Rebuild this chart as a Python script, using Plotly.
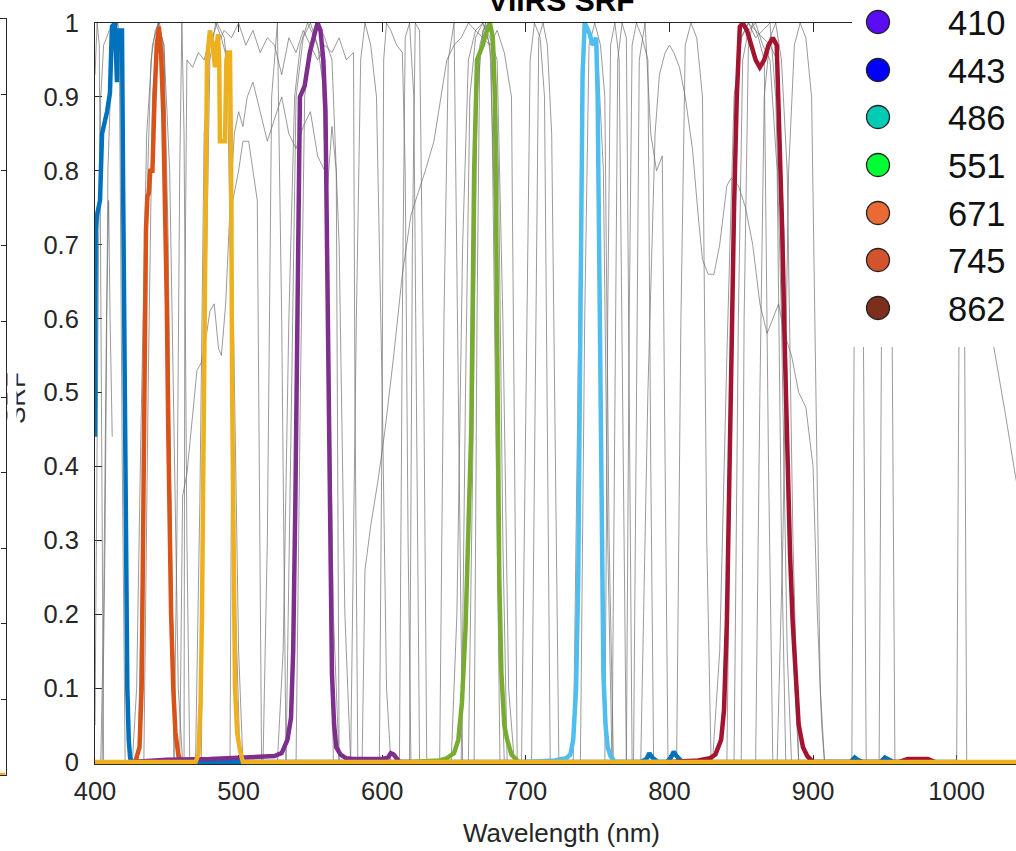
import plotly.graph_objects as go

W, H = 1016, 851

# ---------------- legend (band centres) ----------------
band_labels = ["410", "443", "486", "551", "671", "745", "862"]
band_colors = ["#5a0cf5", "#0000ff", "#00ccb4", "#00ff33", "#ea6a35", "#d4532f", "#7b2f1c"]

# ---------------- VIIRS SRF (coloured, thick) ----------------
m1_wl = [400, 400.5, 401.4, 403.5, 404.9, 408.4, 410.4, 411.8, 413.9, 415.3, 416, 418.8, 419.5, 420.5,
         421.5, 422.5, 423.5, 424.5, 426, 430, 780, 784, 786, 788, 792, 798, 801, 803, 805, 809, 900,
         926, 929, 931, 935, 947, 950, 952, 956, 1000]
m1_srf = [0.44, 0.72, 0.74, 0.76, 0.85, 0.88, 0.905, 0.995, 1.0, 0.92, 0.99, 0.99, 0.8, 0.5,
          0.25, 0.1, 0.03, 0.005, 0.0, 0.0, 0.0, 0.004, 0.012, 0.006, 0.0, 0.0, 0.006, 0.014, 0.008, 0.0, 0.0,
          0.0, 0.006, 0.003, 0.0, 0.0, 0.006, 0.004, 0.0, 0.0]
m2_wl = [428, 431, 432.5, 433.5, 434.5, 435.5, 436.5, 437.5, 438.5, 440, 441.5, 443, 444.5, 446, 447.5,
         449, 450, 451, 452, 453, 454.5, 456, 458, 460]
m2_srf = [0, 0.02, 0.1, 0.3, 0.55, 0.72, 0.765, 0.77, 0.8, 0.8, 0.9, 0.97, 0.995, 0.96, 0.88,
          0.76, 0.62, 0.45, 0.3, 0.2, 0.1, 0.04, 0.01, 0]
m3_wl = [400, 470, 472, 473.5, 474.5, 475.5, 476.5, 478, 480, 482, 483.5, 484.5, 485.6, 486.5, 487, 489,
         490.5, 491.5, 492.5, 494, 494.8, 495.5, 496.5, 497.5, 499, 501, 503, 1050]
m3_srf = [0, 0, 0.01, 0.08, 0.2, 0.45, 0.75, 0.95, 0.99, 0.97, 0.94, 0.96, 0.985, 0.95, 0.84, 0.84,
          0.84, 0.95, 0.96, 0.96, 0.8, 0.5, 0.25, 0.1, 0.04, 0.015, 0.0, 0.0]
m4_wl = [425, 450, 480, 510, 525, 530, 534, 536.5, 538, 539.5, 541, 542.7, 546, 549.6, 553, 555, 557, 559,
         560.5, 562, 563.5, 565, 566.5, 568, 571, 575, 580, 590, 600, 604, 606, 608, 610, 612, 620]
m4_srf = [0.0, 0.003, 0.004, 0.006, 0.008, 0.012, 0.03, 0.06, 0.15, 0.35, 0.65, 0.9, 0.915, 0.96, 0.986,
          1.0, 0.99, 0.95, 0.88, 0.6, 0.3, 0.12, 0.05, 0.02, 0.01, 0.005, 0.004, 0.004, 0.004, 0.006, 0.012,
          0.01, 0.006, 0.0, 0.0]
m5_wl = [620, 640, 645, 650, 653, 655.5, 658, 660, 662, 663, 664, 666, 668, 670, 672, 675, 677, 678.5,
         679.5, 680.5, 681.5, 683, 685, 687, 690, 695]
m5_srf = [0, 0.002, 0.005, 0.012, 0.03, 0.08, 0.18, 0.3, 0.45, 0.62, 0.8, 0.95, 0.96, 0.97, 0.985, 1.0,
          0.98, 0.9, 0.7, 0.45, 0.25, 0.12, 0.05, 0.03, 0.01, 0.0]
m6_wl = [700, 720, 728, 731, 733, 735, 736.5, 737.5, 738.5, 739.5, 741, 744.5, 746.6, 749, 750, 751, 752,
         753, 754, 755.5, 757, 759, 762, 800]
m6_srf = [0, 0.002, 0.005, 0.01, 0.03, 0.1, 0.25, 0.5, 0.75, 0.93, 1.0, 0.985, 0.97, 0.98, 0.9, 0.7, 0.45,
          0.25, 0.12, 0.05, 0.02, 0.008, 0.0, 0.0]
m7_wl = [800, 820, 828, 832, 836, 838, 840, 841.5, 843.4, 845, 846.9, 849, 851, 854, 857, 860, 862.9, 866,
         869, 872, 874.7, 875.5, 877, 878.5, 880, 882, 884, 885.8, 888, 890, 893, 896, 900, 910, 960, 966,
         980, 985]
m7_srf = [0, 0.002, 0.005, 0.01, 0.03, 0.07, 0.19, 0.38, 0.585, 0.75, 0.9, 0.995, 1.0, 0.99, 0.97, 0.95,
          0.94, 0.95, 0.97, 0.98, 0.97, 0.92, 0.85, 0.72, 0.585, 0.42, 0.28, 0.19, 0.1, 0.05, 0.02, 0.008,
          0.0, 0.0, 0.0, 0.004, 0.004, 0.0]
viirs_colors = ["#0072bd", "#d95319", "#edb120", "#7e2f8e", "#77ac30", "#4dbeee", "#a2142f"]

# ---------------- other sensors (thin grey) ----------------
g01_wl = [400, 401.5, 403, 404.5, 406]
g01_srf = [0.93, 1.0, 0.97, 0.4, 0.0]
g02_wl = [400, 401, 402.5, 404, 406, 410, 414, 417, 419, 421]
g02_srf = [0.05, 0.3, 0.7, 0.9, 0.97, 0.99, 1.0, 0.95, 0.4, 0.0]
g03_wl = [404, 406, 408, 409.5, 410.5, 411.5, 412]
g03_srf = [0.0, 0.2, 0.6, 0.76, 0.6, 0.44, 0.44]
g04_wl = [405, 407, 409, 412, 416, 419, 421, 423, 425]
g04_srf = [0, 0.3, 0.8, 0.98, 1.0, 0.9, 0.5, 0.1, 0]
g05_wl = [426, 429, 432, 436, 440, 444, 448, 452, 455, 458, 461]
g05_srf = [0, 0.1, 0.45, 0.85, 0.97, 1.0, 0.97, 0.8, 0.45, 0.1, 0]
g06_wl = [430, 433, 436, 439, 442, 445, 448, 451, 454, 457]
g06_srf = [0, 0.3, 0.75, 0.95, 0.99, 1.0, 0.95, 0.6, 0.2, 0]
g07_wl = [434, 437, 440, 444, 448, 451, 453, 455]
g07_srf = [0, 0.5, 0.9, 1.0, 0.97, 0.7, 0.3, 0]
g08_wl = [455, 457, 459, 460.5, 462, 464, 466]
g08_srf = [0, 0.3, 0.8, 1.0, 0.85, 0.3, 0]
g09_wl = [470, 473, 476, 480, 485, 490, 494, 497, 500, 503]
g09_srf = [0, 0.35, 0.85, 0.97, 1.0, 0.98, 0.9, 0.5, 0.15, 0]
g10_wl = [474, 477, 480, 484, 488, 492, 495, 498, 501]
g10_srf = [0, 0.6, 0.95, 1.0, 0.98, 0.95, 0.6, 0.2, 0]
g11_wl = [462, 462.5, 464, 468, 472, 476, 480, 485, 490, 495, 500, 505, 510, 515, 520, 525, 530, 535, 540,
          545, 550, 555, 560, 565, 570, 575, 580, 581, 583]
g11_srf = [0, 0.6, 0.95, 0.94, 0.96, 0.95, 0.98, 0.97, 0.99, 0.98, 1.0, 0.97, 0.99, 0.96, 0.98, 0.97, 0.93,
           0.98, 0.96, 0.99, 0.97, 0.95, 0.97, 0.96, 0.98, 0.95, 0.96, 0.5, 0]
g12_wl = [459, 460, 461, 464, 467, 471, 474, 477, 480, 483, 486, 488, 491, 494, 497, 500, 503, 506, 510,
          515, 520, 525, 530, 535, 540, 545, 550, 555, 560, 562, 565, 568, 570]
g12_srf = [0, 0.2, 0.36, 0.39, 0.45, 0.53, 0.54, 0.57, 0.61, 0.62, 0.56, 0.55, 0.62, 0.75, 0.85, 0.88,
           0.86, 0.9, 0.92, 0.88, 0.84, 0.87, 0.9, 0.85, 0.83, 0.86, 0.88, 0.82, 0.8, 0.78, 0.86, 0.8, 0]
g13_wl = [494, 495, 496, 500, 503, 507, 510, 513, 514, 516]
g13_srf = [0, 0.5, 0.76, 0.8, 0.84, 0.84, 0.8, 0.76, 0.5, 0]
g14_wl = [527, 531, 535, 539, 543, 548, 553, 558, 562, 566, 570]
g14_srf = [0, 0.15, 0.6, 0.9, 0.97, 1.0, 0.98, 0.95, 0.7, 0.2, 0]
g15_wl = [533, 536, 540, 545, 550, 555, 560, 563, 566]
g15_srf = [0, 0.4, 0.9, 0.98, 1.0, 0.97, 0.9, 0.4, 0]
g16_wl = [540, 543, 546, 550, 555, 560, 565, 570, 574, 578]
g16_srf = [0, 0.5, 0.9, 0.97, 1.0, 0.98, 0.95, 0.7, 0.2, 0]
g17_wl = [517, 520, 523, 527, 530, 533]
g17_srf = [0, 0.3, 0.9, 1.0, 0.6, 0]
g18_wl = [578, 582, 585, 588, 592, 596, 600, 603, 606]
g18_srf = [0, 0.6, 0.95, 1.0, 0.97, 0.9, 0.5, 0.1, 0]
g19_wl = [598, 600, 601, 603, 606, 610, 614, 616, 618, 620]
g19_srf = [0, 0.5, 0.95, 1.0, 0.99, 0.97, 0.96, 0.8, 0.3, 0]
g20_wl = [586, 588, 592, 597, 602, 608, 614, 620, 625, 630, 636, 641, 645, 650, 655, 660, 665, 670, 675,
          680, 685, 690, 692, 694]
g20_srf = [0, 0.26, 0.32, 0.38, 0.45, 0.55, 0.66, 0.74, 0.77, 0.8, 0.84, 0.9, 0.95, 0.97, 0.98, 1.0, 0.99,
           0.98, 0.97, 0.99, 0.96, 0.9, 0.4, 0]
g21_wl = [612, 614, 616, 619, 622, 624, 626]
g21_srf = [0, 0.6, 0.98, 1.0, 0.9, 0.4, 0]
g22_wl = [619, 621, 623, 626, 629, 631]
g22_srf = [0, 0.7, 1.0, 0.99, 0.5, 0]
g23_wl = [648, 652, 656, 660, 665, 670, 675, 680, 684, 688, 692]
g23_srf = [0, 0.2, 0.7, 0.95, 0.99, 1.0, 0.98, 0.95, 0.6, 0.1, 0]
g24_wl = [655, 658, 661, 665, 670, 675, 679, 682, 685]
g24_srf = [0, 0.5, 0.9, 0.98, 1.0, 0.97, 0.7, 0.2, 0]
g25_wl = [660, 663, 666, 670, 674, 678, 681, 684, 687]
g25_srf = [0, 0.4, 0.9, 0.99, 1.0, 0.98, 0.8, 0.3, 0]
g26_wl = [640, 643, 646, 650, 653, 656]
g26_srf = [0, 0.6, 0.95, 1.0, 0.5, 0]
g27_wl = [664, 666, 668, 672, 676, 679, 682]
g27_srf = [0, 0.6, 0.97, 1.0, 0.95, 0.5, 0]
g28_wl = [697, 700, 703, 706, 710, 713, 715, 717]
g28_srf = [0, 0.5, 0.95, 1.0, 0.98, 0.9, 0.4, 0]
g29_wl = [704, 707, 709, 712, 715, 718, 721, 723]
g29_srf = [0, 0.6, 0.98, 1.0, 0.97, 0.85, 0.3, 0]
g30_wl = [733, 736, 739, 742, 746, 750, 754, 757, 760]
g30_srf = [0, 0.5, 0.92, 1.0, 0.98, 0.96, 0.8, 0.3, 0]
g31_wl = [738, 741, 744, 748, 752, 755, 758, 761]
g31_srf = [0, 0.6, 0.97, 1.0, 0.97, 0.9, 0.3, 0]
g32_wl = [755, 757, 759, 762, 765, 768, 770]
g32_srf = [0, 0.6, 0.97, 1.0, 0.95, 0.4, 0]
g33_wl = [760, 762, 764, 767, 770, 772, 774]
g33_srf = [0, 0.5, 0.95, 1.0, 0.98, 0.5, 0]
g34_wl = [770, 772, 774, 777, 781, 785, 787, 789]
g34_srf = [0, 0.6, 0.97, 1.0, 0.98, 0.95, 0.4, 0]
g35_wl = [775, 777, 779, 783, 787, 791, 795, 797, 799]
g35_srf = [0, 0.5, 0.95, 1.0, 0.85, 0.8, 0.82, 0.4, 0]
g36_wl = [780, 785, 790, 793, 797, 800, 803, 807, 811, 816, 820, 823, 827, 831, 835, 840, 843, 848, 853,
          858, 863, 868, 872, 876, 880, 885, 890, 895, 900, 903, 906, 908]
g36_srf = [0.0, 0.5, 0.85, 0.93, 0.96, 0.97, 0.96, 0.94, 0.9, 0.83, 0.74, 0.68, 0.66, 0.66, 0.7, 0.78, 0.79,
           0.78, 0.75, 0.7, 0.62, 0.58, 0.6, 0.62, 0.58, 0.55, 0.5, 0.48, 0.4, 0.2, 0.05, 0]
g37_wl = [805, 808, 811, 815, 819, 823, 826, 829]
g37_srf = [0, 0.6, 0.97, 1.0, 0.98, 0.9, 0.3, 0]
g38_wl = [830, 835, 840, 845, 850, 855, 860, 865, 870, 875, 880, 885, 890]
g38_srf = [0, 0.15, 0.55, 0.9, 0.98, 1.0, 0.99, 0.98, 0.97, 0.95, 0.7, 0.2, 0]
g39_wl = [840, 843, 846, 850, 855, 860, 865, 870, 874, 878, 882, 885]
g39_srf = [0, 0.5, 0.9, 0.98, 1.0, 0.98, 0.99, 1.0, 0.9, 0.6, 0.15, 0]
g40_wl = [845, 848, 851, 855, 860, 865, 870, 875, 878, 881]
g40_srf = [0, 0.6, 0.95, 0.99, 1.0, 0.97, 0.95, 0.8, 0.3, 0]
g41_wl = [850, 852, 855, 858, 862, 866, 869, 872]
g41_srf = [0, 0.6, 0.97, 1.0, 0.98, 0.95, 0.4, 0]
g42_wl = [860, 863, 866, 870, 874, 878, 882, 886, 890]
g42_srf = [0, 0.5, 0.9, 0.98, 1.0, 0.95, 0.8, 0.3, 0]
g43_wl = [875, 879, 883, 887, 891, 895, 899, 902, 905, 908]
g43_srf = [0, 0.3, 0.8, 0.97, 1.0, 0.98, 0.9, 0.5, 0.1, 0]
g44_wl = [927, 929, 931, 933, 935, 937]
g44_srf = [0, 0.7, 1.0, 0.99, 0.6, 0]
g45_wl = [946, 948, 950, 953, 955, 957]
g45_srf = [0, 0.7, 1.0, 0.98, 0.6, 0]
g46_wl = [1000, 1002, 1003.5, 1005, 1007]
g46_srf = [0, 0.7, 1.0, 0.8, 0]
g47_wl = [1000, 1010, 1020, 1026, 1034, 1041, 1050]
g47_srf = [0.9, 0.8, 0.68, 0.56, 0.47, 0.386, 0.3]

grey_curves = [
    (g01_wl, g01_srf), (g02_wl, g02_srf), (g03_wl, g03_srf), (g04_wl, g04_srf), (g05_wl, g05_srf),
    (g06_wl, g06_srf), (g07_wl, g07_srf), (g08_wl, g08_srf), (g09_wl, g09_srf), (g10_wl, g10_srf),
    (g11_wl, g11_srf), (g12_wl, g12_srf), (g13_wl, g13_srf), (g14_wl, g14_srf), (g15_wl, g15_srf),
    (g16_wl, g16_srf), (g17_wl, g17_srf), (g18_wl, g18_srf), (g19_wl, g19_srf), (g20_wl, g20_srf),
    (g21_wl, g21_srf), (g22_wl, g22_srf), (g23_wl, g23_srf), (g24_wl, g24_srf), (g25_wl, g25_srf),
    (g26_wl, g26_srf), (g27_wl, g27_srf), (g28_wl, g28_srf), (g29_wl, g29_srf), (g30_wl, g30_srf),
    (g31_wl, g31_srf), (g32_wl, g32_srf), (g33_wl, g33_srf), (g34_wl, g34_srf), (g35_wl, g35_srf),
    (g36_wl, g36_srf), (g37_wl, g37_srf), (g38_wl, g38_srf), (g39_wl, g39_srf), (g40_wl, g40_srf),
    (g41_wl, g41_srf), (g42_wl, g42_srf), (g43_wl, g43_srf), (g44_wl, g44_srf), (g45_wl, g45_srf),
    (g46_wl, g46_srf), (g47_wl, g47_srf),
]
viirs_curves = [(m1_wl, m1_srf), (m2_wl, m2_srf), (m4_wl, m4_srf), (m5_wl, m5_srf),
                (m6_wl, m6_srf), (m7_wl, m7_srf), (m3_wl, m3_srf)]
viirs_order_colors = [viirs_colors[0], viirs_colors[1], viirs_colors[3], viirs_colors[4],
                      viirs_colors[5], viirs_colors[6], viirs_colors[2]]

x_ticks = [400, 500, 600, 700, 800, 900, 1000]
y_ticks = [0, 0.1, 0.2, 0.3, 0.4, 0.5, 0.6, 0.7, 0.8, 0.9, 1]

# ---------------- geometry (pixels) ----------------
AX_L, AX_R, AX_T, AX_B = 95, 1016, 23, 762
EXT_B = 2.3                       # plot area extends a little below y=0 so the thick baseline is not clipped
PX_PER_NM = 1.4361
X_MAX = 400 + (AX_R - AX_L) / PX_PER_NM
Y_MIN = -EXT_B / (AX_B - AX_T)
AXC = "#262626"
FONT = "Liberation Sans, Arial, Helvetica, sans-serif"


def px(xp):
    return xp / W


def py(yp):
    return 1 - yp / H


fig = go.Figure()
for wl, s in grey_curves:
    fig.add_trace(go.Scatter(x=wl, y=s, mode="lines", cliponaxis=False, hoverinfo="skip",
                             showlegend=False, line=dict(color="rgba(110,110,110,0.78)", width=0.9)))
for (wl, s), c in zip(viirs_curves, viirs_order_colors):
    fig.add_trace(go.Scatter(x=wl, y=s, mode="lines", cliponaxis=False, hoverinfo="skip",
                             showlegend=False, line=dict(color=c, width=4.5)))

# partial neighbouring axes at the far left
fig.add_trace(go.Scatter(x=[0, 1], y=[0, 0], mode="lines", xaxis="x2", yaxis="y2", cliponaxis=False,
                         showlegend=False, hoverinfo="skip", line=dict(color=viirs_colors[2], width=4.5)))

axis_common = dict(showgrid=False, zeroline=False, showline=True, linecolor=AXC, linewidth=1,
                   ticks="inside", tickcolor=AXC, tickwidth=1, layer="below traces", automargin=False,
                   tickfont=dict(family=FONT, size=25.5, color=AXC))

fig.update_layout(
    width=W, height=H, margin=dict(l=0, r=0, t=0, b=0, autoexpand=False),
    paper_bgcolor="white", plot_bgcolor="white", showlegend=False,
    xaxis=dict(domain=[px(AX_L), 1.0], range=[400, X_MAX], tickvals=x_ticks,
               ticktext=[str(v) for v in x_ticks], mirror="ticks", ticklen=9,
               ticklabelstandoff=4, **axis_common),
    yaxis=dict(domain=[py(AX_B + EXT_B), py(AX_T)], range=[Y_MIN, 1], tickvals=y_ticks,
               ticktext=["0" if v == 0 else ("1" if v == 1 else f"{v:.1f}") for v in y_ticks],
               ticklen=7, ticklabelstandoff=10, **axis_common),
    xaxis2=dict(domain=[0, px(5.5)], range=[0, 1], anchor="y2", showgrid=False, zeroline=False,
                showline=True, mirror=True, linecolor=AXC, ticks="", showticklabels=False,
                automargin=False),
    yaxis2=dict(domain=[py(775), py(19)], range=[0, 1], anchor="x2", side="right", showgrid=False,
                zeroline=False, showline=True, linecolor=AXC, ticks="inside", ticklen=5, tickcolor=AXC,
                tickvals=y_ticks, showticklabels=False, automargin=False),
)

shapes = [dict(type="rect", xref="paper", yref="paper", x0=px(852), x1=1.0, y0=py(347), y1=1.0,
               fillcolor="white", line=dict(width=0), layer="above")]
annotations = []
row_y = [22, 70, 117, 165, 213, 260, 308]
R = 11.5
for lab, col, yc in zip(band_labels, band_colors, row_y):
    shapes.append(dict(type="circle", xref="paper", yref="paper", x0=px(878 - R), x1=px(878 + R),
                       y0=py(yc + R), y1=py(yc - R), fillcolor=col, line=dict(color="#222222", width=1.3),
                       layer="above"))
    annotations.append(dict(xref="paper", yref="paper", x=px(946), y=py(yc + 1), xanchor="left",
                            yanchor="middle", showarrow=False, text=lab,
                            font=dict(family=FONT, size=34.5, color="#111111")))

annotations += [
    dict(xref="paper", yref="paper", x=px(561), y=py(19), xanchor="center", yanchor="bottom",
         showarrow=False, text="<b>VIIRS SRF</b>", font=dict(family=FONT, size=30, color="black")),
    dict(xref="paper", yref="paper", x=px(561), y=py(850), xanchor="center", yanchor="bottom",
         showarrow=False, text="Wavelength (nm)", font=dict(family=FONT, size=26, color=AXC)),
    dict(xref="paper", yref="paper", x=px(16), y=py(398), xanchor="center", yanchor="middle",
         showarrow=False, text="SRF", textangle=-90, font=dict(family=FONT, size=26, color=AXC)),
    dict(xref="paper", yref="paper", x=px(6.5), y=py(398), xanchor="left", yanchor="middle",
         showarrow=False, text=" ", width=8, height=80, bgcolor="white", borderpad=0,
         font=dict(size=10)),
]
fig.update_layout(shapes=shapes, annotations=annotations)

fig.write_html("out.html", config={"displayModeBar": False})
